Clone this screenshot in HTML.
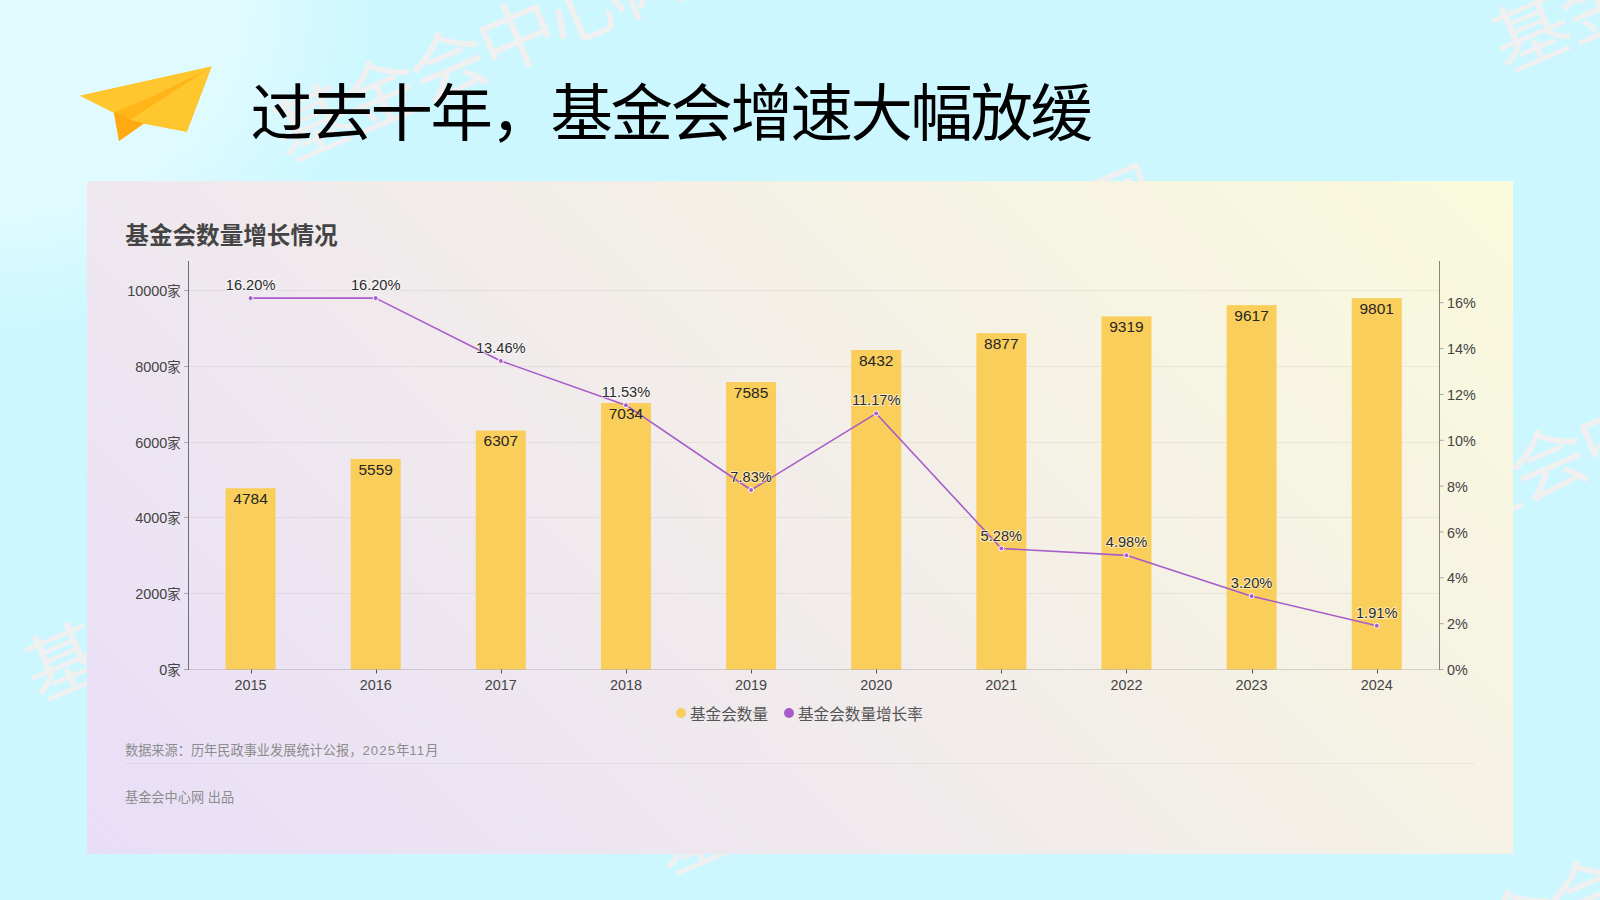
<!DOCTYPE html>
<html lang="zh-CN"><head><meta charset="utf-8"><title>过去十年，基金会增速大幅放缓</title>
<style>
html,body{margin:0;padding:0;}
body{width:1600px;height:900px;position:relative;overflow:hidden;
background:radial-gradient(ellipse 380px 335px at 0 0,#E0FBFF 0%,#E0FBFF 62%,#CCF7FF 100%) no-repeat,#CCF7FF;
font-family:"Liberation Sans","Noto Sans CJK SC",sans-serif;}
.abs{position:absolute;left:0;top:0;}
.title{position:absolute;left:250.5px;top:73.3px;font-size:62.4px;line-height:84px;letter-spacing:-2.4px;color:#000;
font-family:"Liberation Sans","Noto Sans CJK SC",sans-serif;white-space:nowrap;}
.card{position:absolute;left:87px;top:181px;width:1426px;height:673px;
background:linear-gradient(45deg,#E8DEF8 0%,#F2EDEA 50%,#FAFADC 100%);}
.ctitle{position:absolute;left:125.3px;top:219px;font-size:23.6px;line-height:34px;font-weight:bold;color:#444;
font-family:"Liberation Sans","Noto Sans CJK SC",sans-serif;white-space:nowrap;}
svg text{font-family:"Liberation Sans","Noto Sans CJK SC",sans-serif;}
.ax{font-size:14.4px;fill:#444;}
.bl{font-size:15.5px;fill:#262626;}
.ll{font-size:15.5px;fill:#2a2a2a;paint-order:stroke;stroke:rgba(255,255,255,0.6);stroke-width:2px;}
.legend{position:absolute;top:703.3px;font-size:15.6px;line-height:24px;color:#555;white-space:nowrap;
font-family:"Liberation Sans","Noto Sans CJK SC",sans-serif;}
.dot{position:absolute;width:10px;height:10px;border-radius:50%;}
.src{position:absolute;left:125px;top:742px;font-size:13.2px;line-height:18px;color:#8c8c8c;white-space:nowrap;}
.dg{letter-spacing:1.1px;}
.sep{position:absolute;left:125px;top:763px;width:1350px;height:1px;background:rgba(0,0,0,0.045);}
.by{position:absolute;left:125px;top:789px;font-size:13.2px;line-height:18px;color:#8c8c8c;white-space:nowrap;}
</style></head>
<body>
<svg class="abs" width="1600" height="900" viewBox="0 0 1600 900" style="z-index:0">
<g fill="#F0F0F0" font-family="Liberation Sans, Noto Sans CJK SC, sans-serif" font-size="74" letter-spacing="-4">
<text x="0" y="0" transform="translate(286.4,163.2) rotate(-23) scale(1.06,1)">基金会中心网</text>
<text x="0" y="0" transform="translate(1505.4,73.0) rotate(-23) scale(1.06,1)">基金会中心网</text>
<text x="0" y="0" transform="translate(1386.5,560.7) rotate(-23) scale(1.06,1)">基金会中心网</text>
<text x="0" y="0" transform="translate(38.4,702.0) rotate(-23) scale(1.06,1)">基金会中心网</text>
<text x="0" y="0" transform="translate(752.2,388.1) rotate(-23) scale(1.06,1)">基金会中心网</text>
<text x="0" y="0" transform="translate(666.9,876.0) rotate(-23) scale(1.06,1)">基金会中心网</text>
<text x="0" y="0" transform="translate(1425.4,992.1) rotate(-23) scale(1.06,1)">基金会中心网</text>
</g>
</svg>
<svg class="abs" width="1600" height="900" viewBox="0 0 1600 900" style="z-index:1">
<polygon points="80.2,95.8 211.6,66.4 186.8,131.8 143.8,123.6 119,141 114,112.8" fill="#FFB418"/>
<polygon points="114,112.8 130.5,119.8 143.8,123.6 119,141" fill="#FFAA12"/>
<polygon points="80.2,95.8 211.6,66.4 209.5,68.6 150,97.6 114,112.8" fill="#FFC62D"/>
<polygon points="130.5,119.8 211.6,66.4 186.8,131.8 143.8,123.6" fill="#FFC72E"/>
</svg>
<div class="title" style="z-index:2">过去十年，基金会增速大幅放缓</div>
<div class="card" style="z-index:3"></div>
<div class="ctitle" style="z-index:4">基金会数量增长情况</div>
<svg class="abs" width="1600" height="900" viewBox="0 0 1600 900" style="z-index:4">
<line x1="188.0" y1="593.5" x2="1439.3" y2="593.5" stroke="rgba(0,0,0,0.055)" stroke-width="1"/>
<line x1="188.0" y1="517.5" x2="1439.3" y2="517.5" stroke="rgba(0,0,0,0.055)" stroke-width="1"/>
<line x1="188.0" y1="442.5" x2="1439.3" y2="442.5" stroke="rgba(0,0,0,0.055)" stroke-width="1"/>
<line x1="188.0" y1="366.5" x2="1439.3" y2="366.5" stroke="rgba(0,0,0,0.055)" stroke-width="1"/>
<line x1="188.0" y1="290.5" x2="1439.3" y2="290.5" stroke="rgba(0,0,0,0.055)" stroke-width="1"/>
<rect x="225.56" y="488.23" width="50" height="181.27" fill="#FACE5A"/>
<rect x="350.69" y="458.87" width="50" height="210.63" fill="#FACE5A"/>
<rect x="475.82" y="430.53" width="50" height="238.97" fill="#FACE5A"/>
<rect x="600.95" y="402.98" width="50" height="266.52" fill="#FACE5A"/>
<rect x="726.09" y="382.10" width="50" height="287.40" fill="#FACE5A"/>
<rect x="851.21" y="350.01" width="50" height="319.49" fill="#FACE5A"/>
<rect x="976.35" y="333.15" width="50" height="336.35" fill="#FACE5A"/>
<rect x="1101.47" y="316.40" width="50" height="353.10" fill="#FACE5A"/>
<rect x="1226.61" y="305.11" width="50" height="364.39" fill="#FACE5A"/>
<rect x="1351.73" y="298.14" width="50" height="371.36" fill="#FACE5A"/>
<line x1="188.0" y1="669.5" x2="1439.3" y2="669.5" stroke="rgba(0,0,0,0.13)" stroke-width="1"/>
<line x1="188.5" y1="261.0" x2="188.5" y2="670.0" stroke="#6E6E78" stroke-width="1"/>
<line x1="1439.5" y1="261.0" x2="1439.5" y2="670.0" stroke="#86847F" stroke-width="1"/>
<line x1="184" y1="669.5" x2="188" y2="669.5" stroke="#A9A6AE" stroke-width="1"/>
<line x1="184" y1="593.5" x2="188" y2="593.5" stroke="#A9A6AE" stroke-width="1"/>
<line x1="184" y1="517.5" x2="188" y2="517.5" stroke="#A9A6AE" stroke-width="1"/>
<line x1="184" y1="442.5" x2="188" y2="442.5" stroke="#A9A6AE" stroke-width="1"/>
<line x1="184" y1="366.5" x2="188" y2="366.5" stroke="#A9A6AE" stroke-width="1"/>
<line x1="184" y1="290.5" x2="188" y2="290.5" stroke="#A9A6AE" stroke-width="1"/>
<line x1="1440" y1="669.5" x2="1443.5" y2="669.5" stroke="#A9A7A0" stroke-width="1"/>
<line x1="1440" y1="623.7" x2="1443.5" y2="623.7" stroke="#A9A7A0" stroke-width="1"/>
<line x1="1440" y1="577.8" x2="1443.5" y2="577.8" stroke="#A9A7A0" stroke-width="1"/>
<line x1="1440" y1="532.0" x2="1443.5" y2="532.0" stroke="#A9A7A0" stroke-width="1"/>
<line x1="1440" y1="486.1" x2="1443.5" y2="486.1" stroke="#A9A7A0" stroke-width="1"/>
<line x1="1440" y1="440.3" x2="1443.5" y2="440.3" stroke="#A9A7A0" stroke-width="1"/>
<line x1="1440" y1="394.4" x2="1443.5" y2="394.4" stroke="#A9A7A0" stroke-width="1"/>
<line x1="1440" y1="348.6" x2="1443.5" y2="348.6" stroke="#A9A7A0" stroke-width="1"/>
<line x1="1440" y1="302.7" x2="1443.5" y2="302.7" stroke="#A9A7A0" stroke-width="1"/>
<line x1="251.5" y1="669.5" x2="251.5" y2="673.5" stroke="#555" stroke-width="1"/>
<line x1="376.5" y1="669.5" x2="376.5" y2="673.5" stroke="#555" stroke-width="1"/>
<line x1="501.5" y1="669.5" x2="501.5" y2="673.5" stroke="#555" stroke-width="1"/>
<line x1="626.5" y1="669.5" x2="626.5" y2="673.5" stroke="#555" stroke-width="1"/>
<line x1="751.5" y1="669.5" x2="751.5" y2="673.5" stroke="#555" stroke-width="1"/>
<line x1="876.5" y1="669.5" x2="876.5" y2="673.5" stroke="#555" stroke-width="1"/>
<line x1="1001.5" y1="669.5" x2="1001.5" y2="673.5" stroke="#555" stroke-width="1"/>
<line x1="1126.5" y1="669.5" x2="1126.5" y2="673.5" stroke="#555" stroke-width="1"/>
<line x1="1252.5" y1="669.5" x2="1252.5" y2="673.5" stroke="#555" stroke-width="1"/>
<line x1="1377.5" y1="669.5" x2="1377.5" y2="673.5" stroke="#555" stroke-width="1"/>
<polyline points="250.56,298.14 375.69,298.14 500.82,360.95 625.95,405.19 751.09,490.01 876.21,413.44 1001.35,548.46 1126.47,555.34 1251.61,596.14 1376.73,625.72" fill="none" stroke="#A85BCB" stroke-width="1.6" stroke-linejoin="round"/>
<circle cx="250.56" cy="298.14" r="2.5" fill="#A85BCB" stroke="#fff" stroke-width="1"/>
<circle cx="375.69" cy="298.14" r="2.5" fill="#A85BCB" stroke="#fff" stroke-width="1"/>
<circle cx="500.82" cy="360.95" r="2.5" fill="#A85BCB" stroke="#fff" stroke-width="1"/>
<circle cx="625.95" cy="405.19" r="2.5" fill="#A85BCB" stroke="#fff" stroke-width="1"/>
<circle cx="751.09" cy="490.01" r="2.5" fill="#A85BCB" stroke="#fff" stroke-width="1"/>
<circle cx="876.21" cy="413.44" r="2.5" fill="#A85BCB" stroke="#fff" stroke-width="1"/>
<circle cx="1001.35" cy="548.46" r="2.5" fill="#A85BCB" stroke="#fff" stroke-width="1"/>
<circle cx="1126.47" cy="555.34" r="2.5" fill="#A85BCB" stroke="#fff" stroke-width="1"/>
<circle cx="1251.61" cy="596.14" r="2.5" fill="#A85BCB" stroke="#fff" stroke-width="1"/>
<circle cx="1376.73" cy="625.72" r="2.5" fill="#A85BCB" stroke="#fff" stroke-width="1"/>
<text x="180.5" y="675.0" text-anchor="end" class="ax">0<tspan font-size="13.3">家</tspan></text>
<text x="180.5" y="599.0" text-anchor="end" class="ax">2000<tspan font-size="13.3">家</tspan></text>
<text x="180.5" y="523.0" text-anchor="end" class="ax">4000<tspan font-size="13.3">家</tspan></text>
<text x="180.5" y="448.0" text-anchor="end" class="ax">6000<tspan font-size="13.3">家</tspan></text>
<text x="180.5" y="372.0" text-anchor="end" class="ax">8000<tspan font-size="13.3">家</tspan></text>
<text x="180.5" y="296.0" text-anchor="end" class="ax">10000<tspan font-size="13.3">家</tspan></text>
<text x="1447" y="675.0" class="ax">0%</text>
<text x="1447" y="629.2" class="ax">2%</text>
<text x="1447" y="583.3" class="ax">4%</text>
<text x="1447" y="537.5" class="ax">6%</text>
<text x="1447" y="491.6" class="ax">8%</text>
<text x="1447" y="445.8" class="ax">10%</text>
<text x="1447" y="399.9" class="ax">12%</text>
<text x="1447" y="354.1" class="ax">14%</text>
<text x="1447" y="308.2" class="ax">16%</text>
<text x="250.6" y="689.8" text-anchor="middle" class="ax">2015</text>
<text x="375.7" y="689.8" text-anchor="middle" class="ax">2016</text>
<text x="500.8" y="689.8" text-anchor="middle" class="ax">2017</text>
<text x="626.0" y="689.8" text-anchor="middle" class="ax">2018</text>
<text x="751.1" y="689.8" text-anchor="middle" class="ax">2019</text>
<text x="876.2" y="689.8" text-anchor="middle" class="ax">2020</text>
<text x="1001.3" y="689.8" text-anchor="middle" class="ax">2021</text>
<text x="1126.5" y="689.8" text-anchor="middle" class="ax">2022</text>
<text x="1251.6" y="689.8" text-anchor="middle" class="ax">2023</text>
<text x="1376.7" y="689.8" text-anchor="middle" class="ax">2024</text>
<text x="250.6" y="503.9" text-anchor="middle" class="bl">4784</text>
<text x="375.7" y="474.6" text-anchor="middle" class="bl">5559</text>
<text x="500.8" y="446.2" text-anchor="middle" class="bl">6307</text>
<text x="626.0" y="418.7" text-anchor="middle" class="bl">7034</text>
<text x="751.1" y="397.8" text-anchor="middle" class="bl">7585</text>
<text x="876.2" y="365.7" text-anchor="middle" class="bl">8432</text>
<text x="1001.3" y="348.8" text-anchor="middle" class="bl">8877</text>
<text x="1126.5" y="332.1" text-anchor="middle" class="bl">9319</text>
<text x="1251.6" y="320.8" text-anchor="middle" class="bl">9617</text>
<text x="1376.7" y="313.8" text-anchor="middle" class="bl">9801</text>
<text transform="translate(250.6,290.1) scale(0.945,1)" text-anchor="middle" class="ll">16.20%</text>
<text transform="translate(375.7,290.1) scale(0.945,1)" text-anchor="middle" class="ll">16.20%</text>
<text transform="translate(500.8,352.9) scale(0.945,1)" text-anchor="middle" class="ll">13.46%</text>
<text transform="translate(626.0,397.2) scale(0.945,1)" text-anchor="middle" class="ll">11.53%</text>
<text transform="translate(751.1,482.0) scale(0.945,1)" text-anchor="middle" class="ll">7.83%</text>
<text transform="translate(876.2,405.4) scale(0.945,1)" text-anchor="middle" class="ll">11.17%</text>
<text transform="translate(1001.3,540.5) scale(0.945,1)" text-anchor="middle" class="ll">5.28%</text>
<text transform="translate(1126.5,547.3) scale(0.945,1)" text-anchor="middle" class="ll">4.98%</text>
<text transform="translate(1251.6,588.1) scale(0.945,1)" text-anchor="middle" class="ll">3.20%</text>
<text transform="translate(1376.7,617.7) scale(0.945,1)" text-anchor="middle" class="ll">1.91%</text>
</svg>
<div class="dot" style="left:676px;top:708px;background:#FACE5A;z-index:5"></div>
<div class="legend" style="left:690px;z-index:5">基金会数量</div>
<div class="dot" style="left:784px;top:708px;background:#A85BCB;z-index:5"></div>
<div class="legend" style="left:798px;z-index:5">基金会数量增长率</div>
<div class="src" style="z-index:5">数据来源：历年民政事业发展统计公报，<span class="dg">2025</span>年<span class="dg">11</span>月</div>
<div class="sep" style="z-index:5"></div>
<div class="by" style="z-index:5">基金会中心网 出品</div>
</body></html>
